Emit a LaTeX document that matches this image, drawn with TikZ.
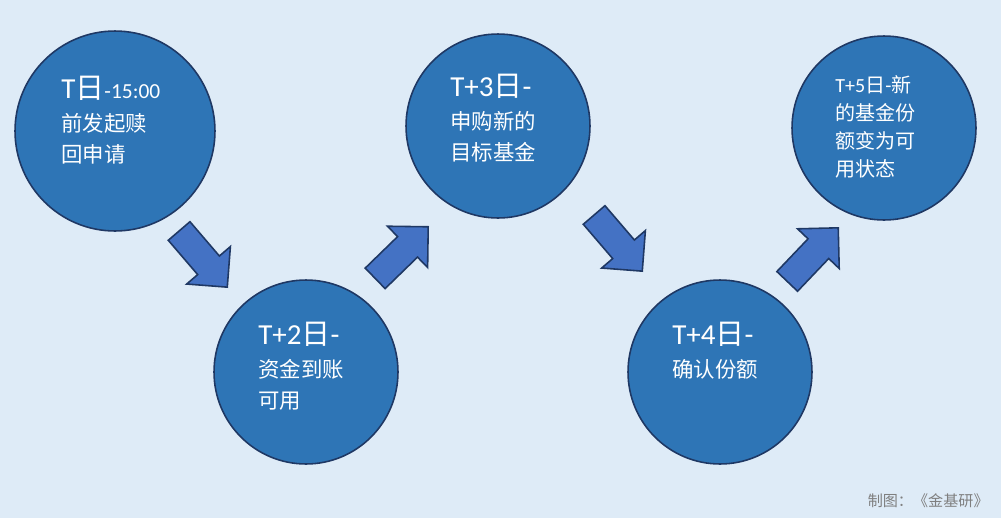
\documentclass[tikz,border=0pt]{standalone}
\usepackage{fontspec}
\setmainfont{Carlito}
\newfontfamily\cjk{Noto Sans CJK SC}
\usetikzlibrary{shapes.arrows}
\definecolor{fondo}{HTML}{DEEBF7}
\definecolor{relleno}{HTML}{2E75B6}
\definecolor{borde}{HTML}{1F3864}
\definecolor{azul}{HTML}{4472C4}
\definecolor{gris}{HTML}{7F7F7F}
\tikzset{
 etapa/.style={
 circle,
 draw=borde, line width=0.9pt,
 fill=relleno},
 flecha/.style={
 single arrow,
 draw=borde, line width=0.9pt,
 fill=azul,
 inner xsep=0pt, inner ysep=0.27cm,
 single arrow head extend=0.29cm,
 minimum height=1.48cm,
 anchor=tip},
 rotulo/.style={
 text=white,
 align=left,
 inner sep=0pt,
 anchor=base west,
 font=\fontsize{12.2}{17.6}\selectfont}
}
\newcommand{\titulo}[1]{{\fontsize{16.5}{20}\selectfont #1}}

\begin{document}
\begin{tikzpicture}[x=0.02cm, y=-0.02cm]
 \fill[fondo] (0,0) rectangle (1001,518);
 \useasboundingbox (0,0) rectangle (1001,518);

 \node[etapa, minimum size=4cm] (redencion) at (115,131) {};
 \node[etapa, minimum size=3.68cm] (fondos) at (306,372) {};
 \node[etapa, minimum size=3.68cm] (compra) at (498,126) {};
 \node[etapa, minimum size=3.68cm] (confirma) at (720,372) {};
 \node[etapa, minimum size=3.68cm] (disponible) at (884,128) {};

 % rotulos (anclados en la linea base de la ultima fila)
 \node[rotulo] (txtredencion) at (61,162) {\titulo{T\cjk 日}-15:00\\[1pt] {\cjk 前发起赎}\\ {\cjk 回申请}};
 \node[rotulo] (txtfondos) at (258,408) {\titulo{T+2{\cjk 日}-}\\[1pt] {\cjk 资金到账}\\ {\cjk 可用}};
 \node[rotulo] (txtcompra) at (450,160) {\titulo{T+3{\cjk 日}-}\\[1pt] {\cjk 申购新的}\\ {\cjk 目标基金}};
 \node[rotulo] (txtconfirma) at (672,377) {\titulo{T+4{\cjk 日}-}\\[1pt] {\cjk 确认份额}};
 \node[rotulo, font=\fontsize{11.4}{15.9}\selectfont] (txtdisponible) at (835,176) {T+5{\cjk 日}-{\cjk 新}\\ {\cjk 的基金份}\\ {\cjk 额变为可}\\ {\cjk 用状态}};

 \node[flecha, rotate=-49.4] (f1) at (228,288) {};
 \node[flecha, rotate=44.2] (f2) at (429,226) {};
 \node[flecha, rotate=-49.4] (f3) at (643,272) {};
 \node[flecha, rotate=46.4] (f4) at (839,227) {};

 \node[text=gris, font=\cjk\fontsize{8.6}{10}\selectfont, anchor=east, inner sep=0pt] (fuente) at (989,501) {制图：《金基研》};
\end{tikzpicture}
\end{document}
